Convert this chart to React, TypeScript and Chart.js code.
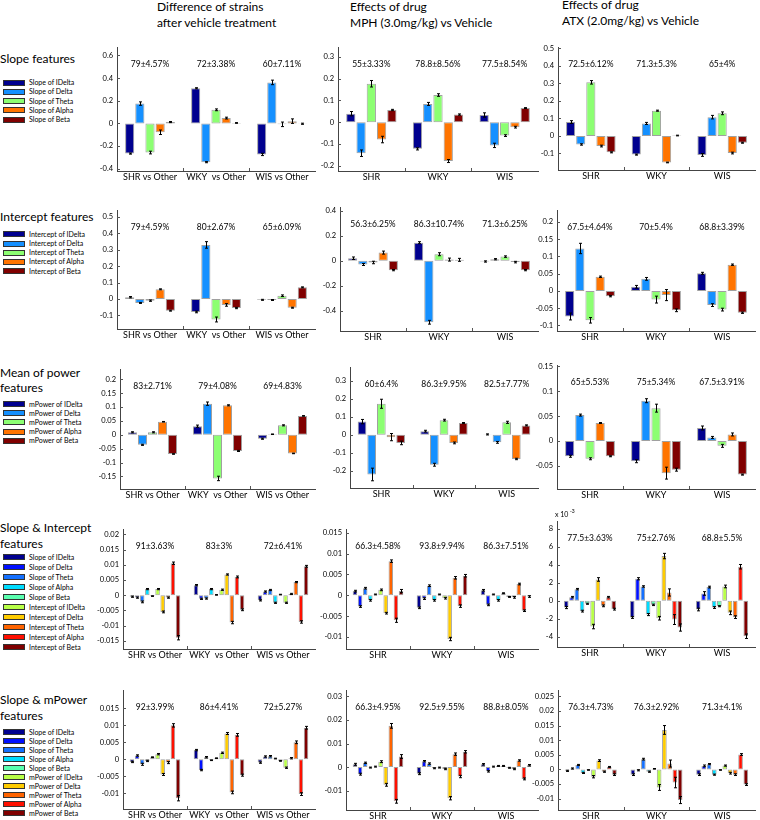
import React, { useEffect, useRef } from "react";
import { Chart, registerables } from "chart.js";
Chart.register(...registerables);

// ---------- categories & names ----------
const strainGroups = ["SHR vs Other", "WKY  vs Other", "WIS vs Other"];
const drugGroups = ["SHR", "WKY", "WIS"];

const slopeNames = ["Slope of IDelta", "Slope of Delta", "Slope of Theta", "Slope of Alpha", "Slope of Beta"];
const interceptNames = ["Intercept of IDelta", "Intercept of Delta", "Intercept of Theta", "Intercept of Alpha", "Intercept of Beta"];
const mpowerNames = ["mPower of IDelta", "mPower of Delta", "mPower of Theta", "mPower of Alpha", "mPower of Beta"];

const colors5 = ["#00008f", "#1590ff", "#8cff72", "#ff7400", "#800000"];
const colors10 = ["#00008f", "#0010ff", "#1470ff", "#00dcff", "#5affb0", "#b8ff46", "#ffcc00", "#ff6400", "#ff1000", "#800000"];

// ---------- Row 1: slope features (values per group: IDelta, Delta, Theta, Alpha, Beta) ----------
const slopeStrain = [[-0.266, 0.175, -0.257, -0.078, 0.012], [0.31, -0.342, 0.12, 0.047, 0.004], [-0.274, 0.362, -0.008, 0.02, -0.003]];
const slopeStrainErr = [[0.005, 0.015, 0.012, 0.02, 0.005], [0.005, 0.005, 0.008, 0.008, 0.003], [0.01, 0.02, 0.02, 0.02, 0.005]];
const slopeStrainAcc = ["79±4.57%", "72±3.38%", "60±7.11%"];
const slopeStrainTicks = [-0.4, -0.2, 0, 0.2, 0.4, 0.6];

const slopeMph = [[0.039, -0.143, 0.177, -0.08, 0.056], [-0.123, 0.084, 0.125, -0.179, 0.035], [0.033, -0.107, -0.062, -0.023, 0.065]];
const slopeMphErr = [[0.01, 0.015, 0.015, 0.015, 0.003], [0.005, 0.007, 0.006, 0.007, 0.003], [0.01, 0.01, 0.004, 0.004, 0.002]];
const slopeMphAcc = ["55±3.33%", "78.8±8.56%", "77.5±8.54%"];
const slopeMphTicks = [-0.2, -0.1, 0, 0.1, 0.2, 0.3];

const slopeAtx = [[0.079, -0.049, 0.306, -0.058, -0.094], [-0.107, 0.071, 0.144, -0.152, 0.002], [-0.109, 0.107, 0.129, -0.098, -0.039]];
const slopeAtxErr = [[0.008, 0.004, 0.01, 0.005, 0.003], [0.003, 0.006, 0.003, 0.002, 0.002], [0.008, 0.01, 0.008, 0.005, 0.003]];
const slopeAtxAcc = ["72.5±6.12%", "71.3±5.3%", "65±4%"];
const slopeAtxTicks = [-0.1, 0, 0.1, 0.2, 0.3, 0.4, 0.5];

// ---------- Row 2: intercept features ----------
const interceptStrain = [[0.011, -0.024, -0.01, 0.059, -0.071], [-0.079, 0.33, -0.125, -0.036, -0.055], [-0.005, -0.006, 0.02, -0.053, 0.071]];
const interceptStrainErr = [[0.004, 0.003, 0.004, 0.003, 0.003], [0.005, 0.02, 0.015, 0.008, 0.004], [0.003, 0.003, 0.005, 0.003, 0.003]];
const interceptStrainAcc = ["79±4.59%", "80±2.67%", "65±6.09%"];
const interceptStrainTicks = [-0.1, 0, 0.1, 0.2, 0.3, 0.4, 0.5];

const interceptMph = [[0.021, -0.029, -0.013, 0.066, -0.074], [0.145, -0.49, 0.053, 0.01, 0.008], [-0.005, 0.013, 0.034, -0.01, -0.074]];
const interceptMphErr = [[0.01, 0.008, 0.01, 0.012, 0.005], [0.008, 0.015, 0.012, 0.012, 0.012], [0.005, 0.005, 0.006, 0.006, 0.005]];
const interceptMphAcc = ["56.3±6.25%", "86.3±10.74%", "71.3±6.25%"];
const interceptMphTicks = [-0.4, -0.2, 0, 0.2, 0.4];

const interceptAtx = [[-0.074, 0.123, -0.085, 0.041, -0.015], [0.012, 0.035, -0.025, -0.012, -0.056], [0.051, -0.041, -0.054, 0.076, -0.063]];
const interceptAtxErr = [[0.01, 0.015, 0.008, 0.002, 0.002], [0.004, 0.004, 0.01, 0.016, 0.004], [0.003, 0.004, 0.004, 0.002, 0.002]];
const interceptAtxAcc = ["67.5±4.64%", "70±5.4%", "68.8±3.39%"];
const interceptAtxTicks = [-0.1, -0.05, 0, 0.05, 0.1, 0.15, 0.2];

// ---------- Row 3: mean of power features ----------
const mpowerStrain = [[0.009, -0.036, 0.009, 0.047, -0.069], [0.031, 0.112, -0.157, 0.106, -0.058], [-0.014, 0.002, 0.034, -0.067, 0.068]];
const mpowerStrainErr = [[0.002, 0.002, 0.002, 0.001, 0.001], [0.004, 0.006, 0.008, 0.002, 0.002], [0.002, 0.001, 0.002, 0.001, 0.001]];
const mpowerStrainAcc = ["83±2.71%", "79±4.08%", "69±4.83%"];
const mpowerStrainTicks = [-0.15, -0.1, -0.05, 0, 0.05, 0.1, 0.15, 0.2];

const mpowerMph = [[0.073, -0.22, 0.172, -0.013, -0.045], [0.02, -0.166, 0.081, -0.045, 0.065], [0.002, -0.042, 0.069, -0.134, 0.052]];
const mpowerMphErr = [[0.012, 0.035, 0.025, 0.02, 0.01], [0.005, 0.008, 0.005, 0.005, 0.003], [0.003, 0.005, 0.006, 0.004, 0.003]];
const mpowerMphAcc = ["60±6.4%", "86.3±9.95%", "82.5±7.77%"];
const mpowerMphTicks = [-0.2, -0.1, 0, 0.1, 0.2, 0.3];

const mpowerAtx = [[-0.031, 0.052, -0.036, 0.036, -0.031], [-0.041, 0.081, 0.066, -0.065, -0.058], [0.026, 0.007, -0.01, 0.013, -0.068]];
const mpowerAtxErr = [[0.002, 0.002, 0.002, 0.001, 0.001], [0.003, 0.004, 0.008, 0.012, 0.003], [0.004, 0.002, 0.003, 0.003, 0.001]];
const mpowerAtxAcc = ["65±5.53%", "75±5.34%", "67.5±3.91%"];
const mpowerAtxTicks = [-0.05, 0, 0.05, 0.1, 0.15];

// ---------- Row 4: slope & intercept features ----------
const slopeIntStrain = [
  [-0.0005, -0.0008, -0.0022, 0.002, -0.0003, 0.002, -0.0055, -0.0008, 0.0105, -0.014],
  [0.0033, -0.0012, -0.0011, 0.002, 0.0001, 0.0018, 0.0068, -0.009, 0.006, -0.0048],
  [-0.0017, 0.0012, 0.0017, -0.0025, 0.0002, -0.0025, 0.0004, 0.0043, -0.0088, 0.0095],
];
const slopeIntStrainErr = [
  [0.0002, 0.0002, 0.0003, 0.0002, 0.0001, 0.0002, 0.0003, 0.0002, 0.0004, 0.0007],
  [0.0002, 0.0002, 0.0002, 0.0002, 0.0001, 0.0002, 0.0002, 0.0004, 0.0003, 0.0003],
  [0.0002, 0.0002, 0.0002, 0.0002, 0.0001, 0.0002, 0.0002, 0.0002, 0.0004, 0.0003],
];
const slopeIntStrainAcc = ["91±3.63%", "83±3%", "72±6.41%"];
const slopeIntStrainTicks = [-0.015, -0.01, -0.005, 0, 0.005, 0.01, 0.015, 0.02];

const slopeIntMph = [
  [0.001, -0.0027, 0.0017, -0.0012, 0.0002, 0.0013, -0.0043, 0.0082, -0.006, 0.001],
  [-0.003, -0.0008, 0.0023, -0.0012, 0.0002, -0.0007, -0.0105, 0.0042, -0.0026, 0.0047],
  [0.0012, -0.0023, 0.0002, -0.0012, 0.0005, -0.0004, -0.0005, 0.0027, -0.0037, -0.0003],
];
const slopeIntMphErr = [
  [0.0002, 0.0002, 0.0002, 0.0002, 0.0001, 0.0002, 0.0002, 0.0003, 0.0005, 0.0004],
  [0.0002, 0.0002, 0.0002, 0.0002, 0.0001, 0.0002, 0.0004, 0.0003, 0.0003, 0.0003],
  [0.0002, 0.0002, 0.0001, 0.0002, 0.0001, 0.0001, 0.0002, 0.0002, 0.0002, 0.0002],
];
const slopeIntMphAcc = ["66.3±4.58%", "93.8±9.94%", "86.3±7.51%"];
const slopeIntMphTicks = [-0.01, -0.005, 0, 0.005, 0.01, 0.015];

// ATX panel values are in units of 10^-3
const slopeIntAtx = [
  [-0.75, 0.41, 1.3, -1.15, -0.33, -2.87, 2.38, -0.56, 0.41, -0.93],
  [-1.86, 2.46, 1.6, -1.53, -0.45, -1.94, 4.99, 0.93, -2.09, -2.98],
  [-0.97, 0.82, 1.53, -0.75, -0.6, 1.6, -1.34, -1.82, 3.8, -3.95],
];
const slopeIntAtxErr = [
  [0.12, 0.08, 0.08, 0.1, 0.06, 0.25, 0.2, 0.1, 0.08, 0.1],
  [0.1, 0.12, 0.08, 0.12, 0.08, 0.2, 0.3, 0.4, 0.55, 0.4],
  [0.15, 0.2, 0.1, 0.1, 0.06, 0.15, 0.2, 0.15, 0.25, 0.25],
];
const slopeIntAtxAcc = ["77.5±3.63%", "75±2.76%", "68.8±5.5%"];
const slopeIntAtxTicks = [-4, -2, 0, 2, 4, 6, 8];

// ---------- Row 5: slope & mPower features ----------
const slopeMpStrain = [
  [-0.0008, 0.0011, -0.0015, -0.0005, 0.0006, 0.0015, -0.0045, -0.001, 0.01, -0.0115],
  [0.0027, -0.0032, 0.0006, -0.0003, 0.0003, 0.0019, 0.0076, -0.0098, 0.0072, -0.0047],
  [-0.001, 0.0008, 0.0009, 0.0002, -0.0005, -0.0025, 0.0003, 0.005, -0.0103, 0.0093],
];
const slopeMpStrainErr = [
  [0.0002, 0.0002, 0.0003, 0.0002, 0.0001, 0.0002, 0.0003, 0.0003, 0.0005, 0.0008],
  [0.0002, 0.0002, 0.0002, 0.0001, 0.0001, 0.0002, 0.0003, 0.0004, 0.0004, 0.0003],
  [0.0002, 0.0002, 0.0002, 0.0001, 0.0001, 0.0002, 0.0002, 0.0004, 0.0004, 0.0004],
];
const slopeMpStrainAcc = ["92±3.99%", "86±4.41%", "72±5.27%"];
const slopeMpStrainTicks = [-0.01, -0.005, 0, 0.005, 0.01, 0.015];

const slopeMpMph = [
  [0.0012, -0.003, 0.0018, -0.0002, 0.0002, 0.0023, -0.0075, 0.0175, -0.0145, 0.0045],
  [-0.0028, 0.0025, 0.0015, -0.0005, -0.0002, -0.0008, -0.0132, 0.0055, -0.004, 0.0065],
  [0.0012, -0.0018, 0.0002, 0.0005, 0.0005, -0.0003, -0.0008, 0.0028, -0.005, 0.0008],
];
const slopeMpMphErr = [
  [0.0004, 0.0004, 0.0003, 0.0002, 0.0002, 0.0004, 0.0006, 0.001, 0.0008, 0.0008],
  [0.0004, 0.0003, 0.0003, 0.0002, 0.0002, 0.0003, 0.0007, 0.0005, 0.0005, 0.0005],
  [0.0003, 0.0003, 0.0002, 0.0002, 0.0002, 0.0002, 0.0003, 0.0003, 0.0004, 0.0003],
];
const slopeMpMphAcc = ["66.3±4.95%", "92.5±9.55%", "88.8±8.05%"];
const slopeMpMphTicks = [-0.01, 0, 0.01, 0.02, 0.03];

const slopeMpAtx = [
  [-0.0005, 0.0003, 0.0015, -0.0012, -0.0002, -0.0025, 0.003, -0.0008, 0.0008, -0.0018],
  [-0.0018, -0.0003, 0.0035, -0.0008, 0.0002, -0.0062, 0.0135, 0.002, -0.0045, -0.0105],
  [-0.0018, 0.0012, 0.0018, -0.0018, -0.0002, 0.0013, -0.0013, -0.0018, 0.0051, -0.0052],
];
const slopeMpAtxErr = [
  [0.0002, 0.0002, 0.0002, 0.0002, 0.0001, 0.0004, 0.0003, 0.0002, 0.0002, 0.0003],
  [0.0003, 0.0002, 0.0003, 0.0002, 0.0001, 0.001, 0.0015, 0.0012, 0.0018, 0.0012],
  [0.0003, 0.0003, 0.0002, 0.0002, 0.0001, 0.0002, 0.0003, 0.0003, 0.0003, 0.0003],
];
const slopeMpAtxAcc = ["76.3±4.73%", "76.3±2.92%", "71.3±4.1%"];
const slopeMpAtxTicks = [-0.01, -0.005, 0, 0.005, 0.01, 0.015, 0.02, 0.025];

// ---------- text ----------
const columnTitles = [
  ["Difference of strains", "after vehicle treatment"],
  ["Effects of drug", "MPH (3.0mg/kg) vs Vehicle"],
  ["Effects of drug", "ATX (2.0mg/kg) vs Vehicle"],
];
const rowTitles = [
  ["Slope features"],
  ["Intercept features"],
  ["Mean of power", "features"],
  ["Slope & Intercept", "features"],
  ["Slope & mPower", "features"],
];

// ---------- layout ----------
const FONT = "Lato, 'Open Sans', 'Liberation Sans', sans-serif";
const YW = 40; // width reserved for y tick labels
const XH = 14; // height reserved for x tick labels
const PR = 2;

type PanelSpec = {
  box: number[];
  min: number;
  max: number;
  ticks: number[];
  labels: string[];
  names: string[];
  colors: string[];
  values: number[][];
  errs: number[][];
  acc: string[];
  exponent?: boolean;
};

const slopeIntNames = [...slopeNames, ...interceptNames];
const slopeMpNames = [...slopeNames, ...mpowerNames];

const panels: PanelSpec[] = [
  { box: [117, 45, 315, 171], min: -0.42, max: 0.67, ticks: slopeStrainTicks, labels: strainGroups, names: slopeNames, colors: colors5, values: slopeStrain, errs: slopeStrainErr, acc: slopeStrainAcc },
  { box: [338, 45, 538, 171], min: -0.225, max: 0.344, ticks: slopeMphTicks, labels: drugGroups, names: slopeNames, colors: colors5, values: slopeMph, errs: slopeMphErr, acc: slopeMphAcc },
  { box: [558, 45, 755, 170], min: -0.195, max: 0.505, ticks: slopeAtxTicks, labels: drugGroups, names: slopeNames, colors: colors5, values: slopeAtx, errs: slopeAtxErr, acc: slopeAtxAcc },

  { box: [117, 208, 315, 329], min: -0.183, max: 0.54, ticks: interceptStrainTicks, labels: strainGroups, names: interceptNames, colors: colors5, values: interceptStrain, errs: interceptStrainErr, acc: interceptStrainAcc },
  { box: [340, 205, 538, 331], min: -0.56, max: 0.426, ticks: interceptMphTicks, labels: drugGroups, names: interceptNames, colors: colors5, values: interceptMph, errs: interceptMphErr, acc: interceptMphAcc },
  { box: [557, 208, 755, 331], min: -0.116, max: 0.233, ticks: interceptAtxTicks, labels: drugGroups, names: interceptNames, colors: colors5, values: interceptAtx, errs: interceptAtxErr, acc: interceptAtxAcc },

  { box: [120, 367, 315, 489], min: -0.195, max: 0.235, ticks: mpowerStrainTicks, labels: strainGroups, names: mpowerNames, colors: colors5, values: mpowerStrain, errs: mpowerStrainErr, acc: mpowerStrainAcc },
  { box: [350, 365, 538, 488], min: -0.295, max: 0.373, ticks: mpowerMphTicks, labels: drugGroups, names: mpowerNames, colors: colors5, values: mpowerMph, errs: mpowerMphErr, acc: mpowerMphAcc },
  { box: [557, 363, 755, 489], min: -0.097, max: 0.152, ticks: mpowerAtxTicks, labels: drugGroups, names: mpowerNames, colors: colors5, values: mpowerAtx, errs: mpowerAtxErr, acc: mpowerAtxAcc },

  { box: [123, 527, 315, 649], min: -0.0177, max: 0.0216, ticks: slopeIntStrainTicks, labels: strainGroups, names: slopeIntNames, colors: colors10, values: slopeIntStrain, errs: slopeIntStrainErr, acc: slopeIntStrainAcc },
  { box: [346, 527, 538, 649], min: -0.0129, max: 0.0158, ticks: slopeIntMphTicks, labels: drugGroups, names: slopeIntNames, colors: colors10, values: slopeIntMph, errs: slopeIntMphErr, acc: slopeIntMphAcc },
  { box: [557, 521, 755, 647], min: -5.15, max: 8.9, ticks: slopeIntAtxTicks, labels: drugGroups, names: slopeIntNames, colors: colors10, values: slopeIntAtx, errs: slopeIntAtxErr, acc: slopeIntAtxAcc, exponent: true },

  { box: [123, 688, 315, 809], min: -0.0147, max: 0.0203, ticks: slopeMpStrainTicks, labels: strainGroups, names: slopeMpNames, colors: colors10, values: slopeMpStrain, errs: slopeMpStrainErr, acc: slopeMpStrainAcc },
  { box: [346, 688, 538, 810], min: -0.0182, max: 0.0325, ticks: slopeMpMphTicks, labels: drugGroups, names: slopeMpNames, colors: colors10, values: slopeMpMph, errs: slopeMpMphErr, acc: slopeMpMphAcc },
  { box: [558, 688, 755, 810], min: -0.0139, max: 0.027, ticks: slopeMpAtxTicks, labels: drugGroups, names: slopeMpNames, colors: colors10, values: slopeMpAtx, errs: slopeMpAtxErr, acc: slopeMpAtxAcc },
];

const legendRows = [
  { names: slopeNames, colors: colors5, y0: 82.7, dy: 9.2 },
  { names: interceptNames, colors: colors5, y0: 234.3, dy: 9.2 },
  { names: mpowerNames, colors: colors5, y0: 404, dy: 9.2 },
  { names: slopeIntNames, colors: colors10, y0: 557, dy: 10.0 },
  { names: slopeMpNames, colors: colors10, y0: 732, dy: 9.0 },
];
const rowTitleY = [59, 216.7, 372.7, 528, 700];
const colTitlePos = [
  { x: 157, y: 7 },
  { x: 350, y: 7 },
  { x: 562, y: 5 },
];

function fmt(v: number): string {
  return String(v);
}

function makeExtras(spec: PanelSpec) {
  return {
    id: "extras",
    afterDatasetsDraw(chart: any) {
      const ctx = chart.ctx as CanvasRenderingContext2D;
      const ys = chart.scales.y;
      const xs = chart.scales.x;
      const area = chart.chartArea;
      ctx.save();
      // error bars
      ctx.strokeStyle = "#000";
      ctx.lineWidth = 1;
      spec.names.forEach((_, i) => {
        const meta = chart.getDatasetMeta(i);
        meta.data.forEach((bar: any, j: number) => {
          const v = spec.values[j][i];
          const e = spec.errs[j][i];
          const x = Math.round(bar.x) + 0.5;
          const y1 = ys.getPixelForValue(v + e);
          const y2 = ys.getPixelForValue(v - e);
          ctx.beginPath();
          ctx.moveTo(x, y1);
          ctx.lineTo(x, y2);
          ctx.moveTo(x - 1.5, y1);
          ctx.lineTo(x + 1.5, y1);
          ctx.moveTo(x - 1.5, y2);
          ctx.lineTo(x + 1.5, y2);
          ctx.stroke();
        });
      });
      // inner ticks
      ctx.strokeStyle = "#555";
      ctx.beginPath();
      spec.ticks.forEach((t) => {
        const y = Math.round(ys.getPixelForValue(t)) + 0.5;
        ctx.moveTo(area.left, y);
        ctx.lineTo(area.left + 3, y);
      });
      for (let j = 1; j < spec.labels.length; j++) {
        const x = Math.round((xs.getPixelForValue(j - 1) + xs.getPixelForValue(j)) / 2) + 0.5;
        ctx.moveTo(x, area.bottom);
        ctx.lineTo(x, area.bottom - 3);
      }
      ctx.stroke();
      // accuracy text
      ctx.fillStyle = "#000";
      ctx.font = `8.5px ${FONT}`;
      ctx.textAlign = "center";
      ctx.textBaseline = "middle";
      spec.acc.forEach((s, j) => {
        ctx.fillText(s, xs.getPixelForValue(j), area.top + 17);
      });
      if (spec.exponent) {
        ctx.textAlign = "left";
        ctx.textBaseline = "alphabetic";
        ctx.font = `7px ${FONT}`;
        ctx.fillText("x 10", area.left - 2, area.top - 4);
        ctx.font = `5px ${FONT}`;
        ctx.fillText("-3", area.left + 13, area.top - 8);
      }
      ctx.restore();
    },
  };
}

function Panel({ spec }: { spec: PanelSpec }) {
  const ref = useRef<HTMLCanvasElement>(null);
  const [L, T, R, B] = spec.box;
  const pt = spec.exponent ? 14 : 6;
  const w = R - L + YW + PR;
  const h = B - T + pt + XH;
  useEffect(() => {
    const ten = spec.names.length === 10;
    const datasets = spec.names.map((name, i) => ({
      label: name,
      data: spec.values.map((row) => row[i]),
      backgroundColor: spec.colors[i],
      borderColor: "#a0a0a0",
      borderWidth: 1,
      borderSkipped: false as const,
      categoryPercentage: ten ? 0.8 : 0.77,
      barPercentage: ten ? 0.88 : 0.9,
    }));
    const chart = new Chart(ref.current!, {
      type: "bar",
      data: { labels: spec.labels, datasets },
      options: {
        responsive: false,
        maintainAspectRatio: false,
        animation: false,
        layout: { padding: { top: pt, right: PR, left: 0, bottom: 0 } },
        plugins: { legend: { display: false }, tooltip: { enabled: false } },
        scales: {
          x: {
            type: "category",
            offset: true,
            grid: { display: false, drawTicks: false },
            border: { display: true, color: "#444", width: 1 },
            ticks: { color: "#000", font: { size: 9, family: FONT }, padding: 1, maxRotation: 0, autoSkip: false },
            afterFit: (s: any) => {
              s.height = XH;
            },
          },
          y: {
            type: "linear",
            min: spec.min,
            max: spec.max,
            grid: { display: false, drawTicks: false },
            border: { display: true, color: "#444", width: 1 },
            ticks: { color: "#000", font: { size: 7.5, family: FONT }, padding: 4, callback: (v: any) => fmt(Number(v)) },
            afterBuildTicks: (s: any) => {
              s.ticks = spec.ticks.map((v) => ({ value: v }));
            },
            afterFit: (s: any) => {
              s.width = YW;
            },
          },
        },
      },
      plugins: [makeExtras(spec)],
    } as any);
    return () => chart.destroy();
  }, [spec]);
  return (
    <canvas
      ref={ref}
      width={w}
      height={h}
      style={{ position: "absolute", left: L - YW, top: T - pt, width: w, height: h }}
    />
  );
}

export default function App() {
  return (
    <div
      style={{
        position: "fixed",
        left: 0,
        top: 0,
        width: 760,
        height: 820,
        background: "#fff",
        overflow: "hidden",
        fontFamily: FONT,
        color: "#000",
      }}
    >
      {columnTitles.map((lines, c) => (
        <div
          key={"ct" + c}
          style={{ position: "absolute", left: colTitlePos[c].x, top: colTitlePos[c].y - 8, fontSize: 12, lineHeight: "16px", whiteSpace: "nowrap" }}
        >
          {lines.map((l, k) => (
            <div key={k}>{l}</div>
          ))}
        </div>
      ))}
      {rowTitles.map((lines, r) => (
        <div
          key={"rt" + r}
          style={{ position: "absolute", left: 0, top: rowTitleY[r] - 8, fontSize: 12, lineHeight: "15.7px", whiteSpace: "nowrap" }}
        >
          {lines.map((l, k) => (
            <div key={k}>{l}</div>
          ))}
        </div>
      ))}
      {legendRows.map((lg, r) =>
        lg.names.map((n, i) => (
          <div
            key={"lg" + r + "-" + i}
            style={{ position: "absolute", left: 3, top: lg.y0 + i * lg.dy - 4.5, height: 9, display: "flex", alignItems: "center", whiteSpace: "nowrap" }}
          >
            <div style={{ width: 22, height: 6, background: lg.colors[i], border: "1px solid #333", boxSizing: "border-box" }} />
            <div style={{ marginLeft: 4, fontSize: 7, lineHeight: "9px" }}>{n}</div>
          </div>
        ))
      )}
      {panels.map((p, k) => (
        <Panel key={k} spec={p} />
      ))}
    </div>
  );
}
